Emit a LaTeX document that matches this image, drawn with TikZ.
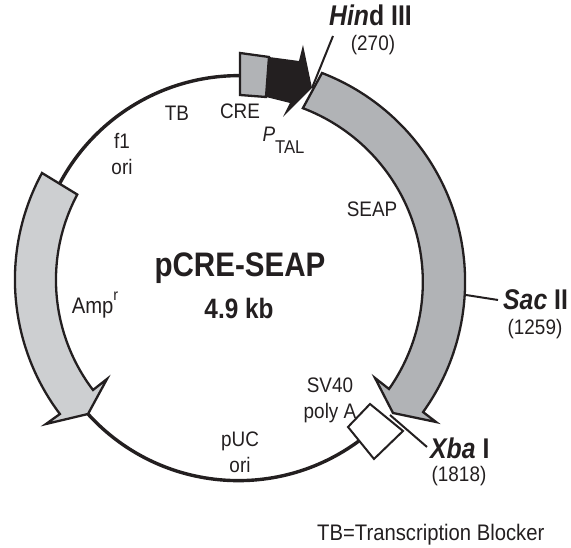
\documentclass[tikz,border=0pt]{standalone}
\usepackage{fontspec}
\setmainfont[FakeStretch=0.9,BoldFeatures={FakeStretch=0.87},BoldItalicFeatures={FakeStretch=0.87}]{Liberation Sans}
\begin{document}
\begin{tikzpicture}[x=1pt,y=1pt,
        backbone/.style={line width=3.4pt,color=ink},
        segment/.style={line width=2.3pt,draw=ink,line join=miter},
        siteline/.style={line width=2pt,color=ink},
        lbl/.style={inner sep=0pt,font=\fontsize{21}{26}\selectfont,text=ink,align=center},
        sitepos/.style={inner sep=0pt,font=\fontsize{21}{23}\selectfont,text=ink},
        site/.style={inner sep=0pt,font=\fontsize{28.5}{30}\selectfont\bfseries,text=ink}]
        %colores
        \definecolor{ink}{HTML}{231F20}
        \definecolor{gA}{HTML}{B1B3B6}
        \definecolor{gB}{HTML}{CDCFD1}
        \useasboundingbox (0,0) rectangle (571,548);

        % Circulo
        \coordinate (amptop) at (60,365);
        \coordinate (crein) at (240,473);
        \coordinate (amptip) at (88,134);
        \coordinate (xbain) at (360,105);
        \draw[backbone] (amptop) arc (151.9:89.4:203);
        \draw[backbone] (amptip) arc (222.2:306.5:203);

        % Amp
        \draw[segment,fill=gB] (42,375) arc (151.5:217:223.4) -- (46,124) -- (amptip)
            -- (107,169) -- (93,158) arc (217.2:152:182) -- cycle;
        % SEAP
        \draw[segment,fill=gA] (322,475) arc (68.9:-35.7:223.6) -- (436,126)
            .. controls (415,130) .. (393,135) -- (375,170) -- (389,159)
            arc (-35.1:69.2:186) -- cycle;
        % CRE, P TAL
        \draw[segment,fill=gA] (240,495) -- (269,491) -- (266,451) -- (240,453) -- cycle;
        \fill[ink] (269,491) -- (299,487) -- (303,503) -- (312,460) -- (283,431)
            -- (290,445) -- (266,451) -- cycle;
        % Xba
        \coordinate (xbabase) at (390,133);
        \coordinate (xbaend) at (427,101);
        \draw[siteline] (xbabase) -- (xbaend);
        \draw[segment,fill=white,line width=2pt] (370,144) -- (403,117) -- (374,89) -- (348,121) -- cycle;

        % Sitios
        \coordinate (hindbase) at (312,460);
        \coordinate (hindend) at (333,512);
        \coordinate (sacbase) at (466,253);
        \coordinate (sacend) at (498,248);
        \draw[siteline] (hindbase) -- (hindend);
        \draw[siteline] (sacbase) -- (sacend);

        \node[site,anchor=west] (hind) at (329,533) {\textit{Hin}d III};
        \node[sitepos] (hindpos) at (373,503) {(270)};
        \node[site,anchor=west] (sac) at (503,248) {\textit{Sac} II};
        \node[sitepos] (sacpos) at (535,219) {(1259)};
        \node[site,anchor=west] (xba) at (430,100) {\textit{Xba} I};
        \node[sitepos] (xbapos) at (459,72) {(1818)};

        % Etiquetas
        \node[lbl] (cre) at (240,437) {CRE};
        \node[lbl] (tb) at (177,435) {TB};
        \node[lbl] (f1) at (122,394) {f1\\ori};
        \node[lbl] (ptal) at (283.5,407.5) {\textit{P}\raisebox{-12pt}{\fontsize{18.5}{20}\selectfont TAL}};
        \node[lbl] (seap) at (372,339) {SEAP};
        \node[lbl,font=\fontsize{22.5}{26}\selectfont] (amp) at (95,243) {Amp\raisebox{1.1ex}{\fontsize{16}{18}\selectfont r}};
        \node[lbl] (sv) at (330,148) {SV40\\poly A};
        \node[lbl] (puc) at (240,96) {pUC\\ori};
        \node[inner sep=0pt,font=\fontsize{34}{36}\selectfont\bfseries,text=ink] (name) at (240,280) {pCRE-SEAP};
        \node[inner sep=0pt,font=\fontsize{28}{30}\selectfont\bfseries,text=ink] (size) at (239,240) {4.9 kb};
        \node[lbl,anchor=west,font=\fontsize{22.5}{26}\selectfont] (note) at (317,13) {TB=Transcription Blocker};
    \end{tikzpicture}
\end{document}
